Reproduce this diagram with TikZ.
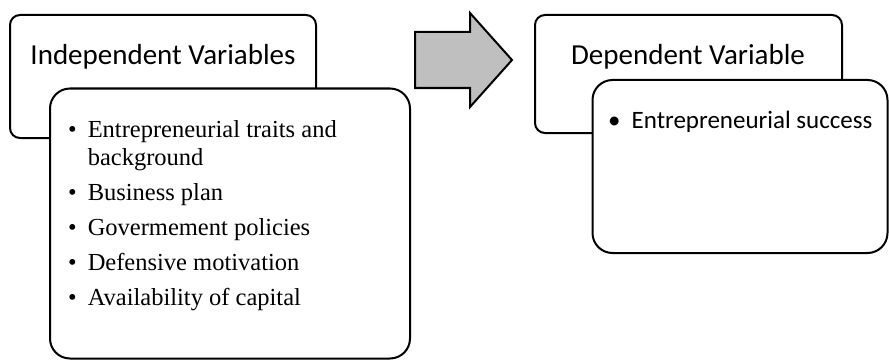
\documentclass[tikz,border=0pt]{standalone}
\usepackage{fontspec}
\setmainfont{Liberation Serif}
\newfontfamily\headfont{Carlito}
\usepackage{xcolor}
\usetikzlibrary{positioning}

\begin{document}
\begin{tikzpicture}[x=1pt, y=-1pt,
            header/.style={draw=black, line width=2pt, rounded corners=10pt, fill=white, inner sep=0pt},
            body/.style={draw=black, line width=2pt, rounded corners=20pt, fill=white, inner sep=0pt},
            headtext/.style={font=\headfont\fontsize{29}{33}\selectfont, inner sep=0pt, anchor=base},
            listtext/.style={font=\fontsize{24.5}{28}\selectfont, align=left, inner sep=0pt, anchor=north west}]

            \useasboundingbox (0,0) rectangle (889,361);

            % Nodes
            \node (indephead) [header, minimum width=306pt, minimum height=123pt] at (163,76.5) {};
            \node (indeplabel) [headtext] at (163,65) {Independent Variables};
            \node (indepbody) [body, minimum width=360pt, minimum height=270pt] at (230,223.5) {};
            \node (indeplist) [listtext] at (68,120.5) {%
                \textbullet\hspace{11pt}Entrepreneurial traits and\\
                \phantom{\textbullet\hspace{11pt}}background\\[7pt]
                \textbullet\hspace{11pt}Business plan\\[7pt]
                \textbullet\hspace{11pt}Govermement policies\\[7pt]
                \textbullet\hspace{11pt}Defensive motivation\\[7pt]
                \textbullet\hspace{11pt}Availability of capital};

            \node (dephead) [header, minimum width=307pt, minimum height=118pt] at (688.5,74) {};
            \node (deplabel) [headtext] at (688,65) {Dependent Variable};
            \node (depbody) [body, minimum width=295pt, minimum height=173pt] at (740,166.5) {};
            \node (deplist) [listtext, font=\headfont\fontsize{25}{28}\selectfont, anchor=base west] at (608,128) {%
                \textbullet\hspace{11pt}Entrepreneurial success};

            % Arrow
            \draw [line width=2pt, fill=black!25, line join=miter]
                (415,32) -- (470,32) -- (470,13) -- (512,60) -- (470,107) -- (470,88) -- (415,88) -- cycle;
        \end{tikzpicture}
\end{document}
